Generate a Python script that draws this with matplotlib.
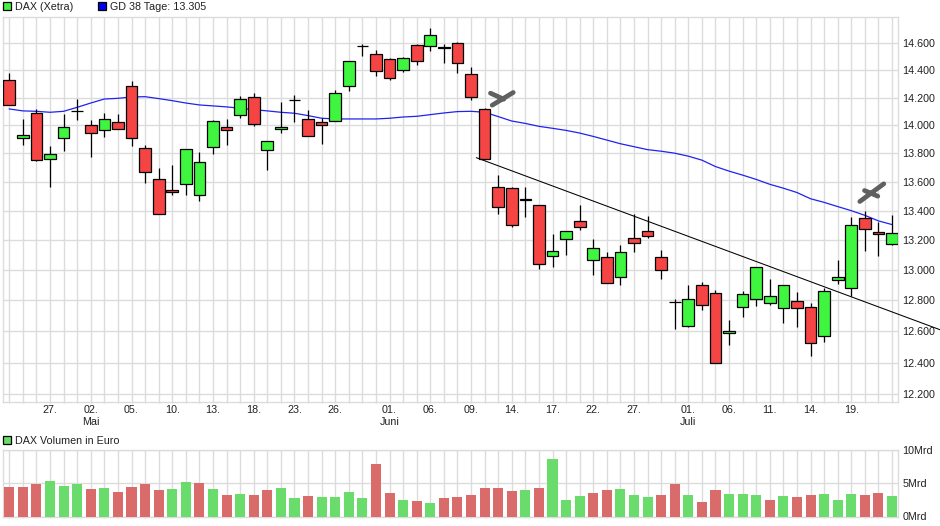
import matplotlib
matplotlib.use('Agg')
import matplotlib.pyplot as plt
from matplotlib.markers import MarkerStyle
from matplotlib.patches import Rectangle
from matplotlib.path import Path
from matplotlib.ticker import NullLocator

plt.rcParams['font.family'] = ['Liberation Sans', 'DejaVu Sans']
plt.rcParams['font.size'] = 7.75

# Load data
opens = [14327, 13907, 14087, 13764, 13907, 14104, 14000, 13964, 14022, 14283, 13836,
         13621, 13545, 13586, 13510, 13843, 13986, 14072, 14202, 13822, 13971, 14181,
         14043, 14022, 14029, 14285, 14578, 14520, 14483, 14400, 14585, 14578, 14570,
         14600, 14371, 14116, 13566, 13559, 13483, 13441, 13093, 13207, 13333, 13067,
         13087, 12953, 13218, 13266, 13091, 12789, 12634, 12904, 12851, 12589, 12760,
         12811, 12785, 12753, 12798, 12760, 12570, 12938, 12884, 13355, 13259, 13178]
closes = [14145, 13929, 13757, 13793, 13986, 14104, 13943, 14043, 13971, 13907, 13671,
          13380, 13529, 13829, 13743, 14029, 13964, 14188, 14007, 13886, 13986, 14181,
          13921, 14005, 14232, 14466, 14578, 14393, 14341, 14490, 14466, 14660, 14563,
          14452, 14202, 13764, 13428, 13307, 13476, 13040, 13127, 13264, 13293, 13147,
          12914, 13120, 13184, 13232, 13004, 12789, 12811, 12773, 12400, 12602, 12844,
          13018, 12831, 12904, 12753, 12526, 12864, 12958, 13307, 13280, 13245, 13252]
highs = [14380, 14046, 14116, 13852, 14082, 14190, 14036, 14089, 14082, 14322, 13860,
         13700, 13722, 13829, 13810, 14036, 14046, 14212, 14232, 13886, 14169, 14217,
         14108, 14053, 14256, 14466, 14592, 14550, 14490, 14498, 14595, 14714, 14595,
         14608, 14422, 14123, 13652, 13566, 13568, 13441, 13242, 13264, 13443, 13209,
         13120, 13167, 13382, 13364, 13133, 12811, 12900, 12920, 12871, 12672, 12864,
         13018, 12940, 12904, 12853, 12785, 12880, 13067, 13357, 13402, 13323, 13370]
lows = [14145, 13862, 13747, 13563, 13817, 14041, 13776, 13919, 13971, 13855, 13591,
        13380, 13508, 13508, 13471, 13798, 13862, 14055, 13998, 13683, 13948, 14027,
        13921, 13869, 14029, 14251, 14508, 14361, 14332, 14390, 14442, 14546, 14457,
        14383, 14186, 13760, 13378, 13291, 13358, 13011, 13024, 13102, 13271, 12965,
        12914, 12903, 13122, 13216, 12942, 12617, 12625, 12739, 12394, 12509, 12695,
        12764, 12770, 12656, 12625, 12441, 12533, 12907, 12827, 13129, 13093, 13169]
gd38 = [14118, 14104, 14101, 14094, 14101, 14130, 14161, 14190, 14195, 14205, 14207,
        14193, 14178, 14161, 14147, 14140, 14133, 14123, 14113, 14104, 14094, 14087,
        14070, 14051, 14046, 14046, 14046, 14046, 14051, 14060, 14065, 14077, 14089,
        14099, 14101, 14094, 14063, 14031, 14014, 13993, 13979, 13964, 13945, 13921,
        13895, 13869, 13848, 13827, 13816, 13802, 13781, 13753, 13708, 13676, 13648,
        13618, 13584, 13557, 13527, 13484, 13459, 13430, 13402, 13370, 13332, 13307]
volumes = [4.4, 4.4, 4.85, 5.3, 4.55, 4.85, 4.1, 4.25, 3.65, 4.4, 4.85, 3.95, 4.1, 5.15,
           5.0, 4.1, 3.2, 3.35, 3.2, 3.95, 4.25, 2.8, 3.05, 2.9, 2.9, 3.65, 2.8, 7.8, 3.5,
           2.5, 2.3, 2.0, 2.8, 2.9, 3.2, 4.25, 4.25, 3.8, 3.95, 4.25, 8.55, 2.5, 3.05, 3.5,
           3.95, 4.1, 3.2, 2.9, 3.2, 4.85, 3.2, 2.2, 3.95, 3.35, 3.35, 3.2, 2.5, 3.05, 2.9,
           3.2, 3.35, 2.5, 3.35, 3.2, 3.5, 3.05]
volume_up = [0, 0, 0, 1, 1, 1, 0, 1, 0, 0, 0, 0, 1, 1, 0, 1, 0, 1, 0, 0, 1, 1, 0, 1, 1, 1,
             1, 0, 0, 1, 0, 1, 0, 0, 0, 0, 0, 0, 1, 0, 1, 1, 1, 0, 0, 1, 1, 1, 0, 0, 1, 0,
             0, 1, 1, 1, 0, 1, 0, 0, 1, 1, 1, 0, 0, 1]

trend_x = [34.4, 68.53]
trend_y = [13770, 12610]
mark_x = [36.2, 63.45]
mark_y = [14197, 13522]

label_pos = [3, 6, 9, 12, 15, 18, 21, 24, 28, 31, 34, 37, 40, 43, 46, 50, 53, 56, 59, 62]
label_txt = ['27.', '02.\nMai', '05.', '10.', '13.', '18.', '23.', '26.', '01.\nJuni', '06.',
             '09.', '14.', '17.', '22.', '27.', '01.\nJuli', '06.', '11.', '14.', '19.']
price_ticks = [14600, 14400, 14200, 14000, 13800, 13600, 13400, 13200, 13000, 12800, 12600, 12400, 12200]
price_labels = ['14.600', '14.400', '14.200', '14.000', '13.800', '13.600', '13.400', '13.200',
                '13.000', '12.800', '12.600', '12.400', '12.200']
vol_ticks = [0, 5, 10]
vol_labels = ['0Mrd', '5Mrd', '10Mrd']

W, H = 940, 526
GRID = '#dcdcdc'
RED = '#f44444'
GREEN = '#3ff53f'
VOL_RED = '#d96b6b'
VOL_GREEN = '#6adc6c'

fig = plt.figure(figsize=(W / 100, H / 100), dpi=100)
ax1 = fig.add_axes([2.5 / W, 1 - 402 / H, 895.5 / W, 385.5 / H])
ax2 = fig.add_axes([2.5 / W, 1 - 516.5 / H, 895.5 / W, 67 / H])

# Candles
xs = list(range(len(opens)))
ax1.set_yscale('log')
ax1.vlines(xs, lows, highs, color='black', linewidth=0.9, zorder=3)
for i in xs:
    lo, hi = sorted((opens[i], closes[i]))
    color = GREEN if closes[i] >= opens[i] else RED
    ax1.bar(i, hi - lo, bottom=lo, width=0.86, color=color, edgecolor='black', linewidth=0.9, zorder=4)

ax1.plot(xs, gd38, color='#2222ee', linewidth=0.9, zorder=2.5)
ax1.plot(trend_x, trend_y, color='black', linewidth=0.75, clip_on=False, zorder=5)

# Grey hand drawn ticks
mark_shapes = [[(-11, 5.3), (2.3, -0.7), (-9.3, -6.7), (11.7, 6)],
               [(-7, 3), (6.3, -2.7), (-11.7, -8), (12.3, 9.7)]]
mark_sizes = [16.9, 17.7]
for x, y, shape, size in zip(mark_x, mark_y, mark_shapes, mark_sizes):
    path = Path(shape, [Path.MOVETO, Path.LINETO, Path.MOVETO, Path.LINETO])
    ax1.plot([x], [y], marker=MarkerStyle(path, capstyle='round'), markersize=size, markerfacecolor='none',
             markeredgecolor='#606060', markeredgewidth=3.4, zorder=6)

ax1.set_xlim(-0.5, 65.44)
ax1.set_ylim(12152, 14802)
ax1.yaxis.tick_right()
ax1.set_yticks(price_ticks, price_labels)
ax1.yaxis.set_minor_locator(NullLocator())
ax1.set_xticks(xs)
ax1.set_xticklabels([label_txt[label_pos.index(i)] if i in label_pos else '' for i in xs], linespacing=1.25)

# Volume
ax2.bar(xs, volumes, width=0.74, color=[VOL_GREEN if u else VOL_RED for u in volume_up], zorder=3)
ax2.set_xlim(-0.5, 65.44)
ax2.set_ylim(0, 10)
ax2.yaxis.tick_right()
ax2.set_yticks(vol_ticks, vol_labels)
ax2.set_xticks(xs)
ax2.set_xticklabels([])

# Style Chart
for ax in (ax1, ax2):
    ax.grid(True, color=GRID, linewidth=1)
    ax.set_axisbelow(True)
    ax.tick_params(axis='y', length=0, pad=3, labelcolor='#222222')
    ax.tick_params(axis='x', length=1, width=1, color=GRID, pad=1.5, labelcolor='#222222')
    for spine in ax.spines.values():
        spine.set_color(GRID)
        spine.set_linewidth(1)

# Legends
def legend_box(x, y, color):
    fig.add_artist(Rectangle((x / W, 1 - (y + 7.3) / H), 7.3 / W, 7.3 / H, transform=fig.transFigure,
                             facecolor=color, edgecolor='black', linewidth=0.9))

def legend_text(x, y, text):
    fig.text(x / W, 1 - y / H, text, ha='left', va='baseline', color='#222222')

legend_box(3.4, 2.4, GREEN)
legend_text(15, 10.3, 'DAX (Xetra)')
legend_box(98.4, 2.4, '#0000ee')
legend_text(110, 10.3, 'GD 38 Tage: 13.305')
legend_box(3.4, 436.2, VOL_GREEN)
legend_text(15, 443.8, 'DAX Volumen in Euro')

plt.savefig('out.png', dpi=100)
